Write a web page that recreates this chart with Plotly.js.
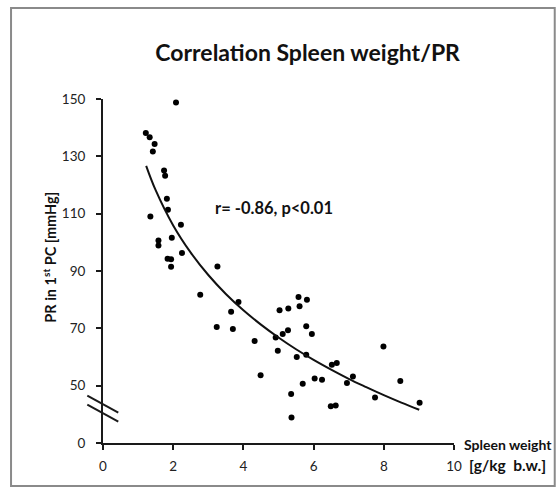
<!DOCTYPE html>
<html>
<head>
<meta charset="utf-8">
<script src="https://cdn.plot.ly/plotly-3.0.1.min.js"></script>
<style>html,body{margin:0;padding:0;background:#fff;}#chart{width:556px;height:489px;}</style>
</head>
<body>
<div id="chart"></div>
<script>
// Scatter data: spleen weight [g/kg b.w.] vs PR in 1st PC [mmHg]
const spleenWeight = [2.08,1.22,1.33,1.47,1.42,1.74,1.77,1.82,1.85,1.35,2.22,1.96,1.58,1.58,2.25,1.84,1.94,1.94,3.26,2.77,
  3.86,3.65,3.70,3.24,4.32,5.03,5.28,5.57,5.81,5.60,4.92,5.12,5.27,5.79,5.95,4.98,5.52,5.79,4.49,6.03,
  6.24,5.69,5.36,5.37,6.52,6.66,6.95,7.12,6.49,6.63,7.75,7.99,8.47,9.02];
const pressure = [148.8,138.1,136.7,134.3,131.7,125.1,123.2,115.2,111.4,109.0,106.1,101.6,100.6,98.9,96.3,94.3,94.1,91.5,91.6,81.7,
  79.2,75.8,69.8,70.5,65.6,76.3,76.9,80.9,80.0,77.7,66.8,68.0,69.3,70.7,68.0,62.2,60.0,60.8,53.6,52.5,
  52.1,50.7,47.1,38.9,57.3,57.9,50.9,53.2,42.8,43.1,45.9,63.7,51.6,44.0];
// Fitted trend curve
const trendX = [1.23,1.5,2,2.5,3,3.5,4,4.5,5,5.5,6,6.5,7,7.5,8,8.5,9.01];
const trendY = [126.7,118.2,105.9,96.4,88.6,82.0,76.3,71.3,66.8,62.7,59.0,55.6,52.4,49.5,46.7,44.1,41.6];
// Axis ticks (broken y axis: "0" sits one step below 50)
const xTickVals = [0,2,4,6,8,10];
const yTickVals = [30,50,70,90,110,130,150];
const yTickText = ["0","50","70","90","110","130","150"];

const font = "Lato, 'Open Sans', sans-serif";
const axisColor = "#1a1a1a";

const traces = [
  {x: spleenWeight, y: pressure, type: "scatter", mode: "markers",
   marker: {color: "#000", size: 6}, cliponaxis: false, hoverinfo: "x+y"},
  {x: trendX, y: trendY, type: "scatter", mode: "lines",
   line: {color: "#111", width: 2, shape: "spline"}, hoverinfo: "skip"}
];

const layout = {
  width: 556, height: 489,
  margin: {l: 102.7, r: 102, t: 99.3, b: 45.7},
  paper_bgcolor: "#fff", plot_bgcolor: "#fff",
  showlegend: false,
  font: {family: font, color: "#222", size: 13},
  title: {text: "<b>Correlation Spleen weight/PR</b>", font: {family: font, size: 23, color: "#111"},
          xref: "paper", x: 0.583, xanchor: "center", yref: "container", y: 0.892, yanchor: "middle"},
  xaxis: {range: [0, 10], tickvals: xTickVals, showgrid: false, zeroline: false,
          showline: true, linecolor: axisColor, linewidth: 2,
          ticks: "outside", ticklen: 5, tickwidth: 2, tickcolor: axisColor,
          ticklabelstandoff: 5, tickfont: {family: font, size: 13.5, color: "#222"}},
  yaxis: {range: [30, 150], tickvals: yTickVals, ticktext: yTickText, showgrid: false, zeroline: false,
          showline: true, linecolor: axisColor, linewidth: 2,
          ticks: "outside", ticklen: 5, tickwidth: 2, tickcolor: axisColor,
          ticklabelstandoff: 8, tickfont: {family: font, size: 13.5, color: "#222"}},
  annotations: [
    {text: "<b>PR in 1<sup>st</sup> PC [mmHg]</b>", xref: "paper", yref: "paper", x: -0.151, y: 0.5416,
     textangle: -90, showarrow: false, font: {family: font, size: 14.5, color: "#111"}, xanchor: "center", yanchor: "middle"},
    {text: "<b>r= -0.86, p<0.01</b>", xref: "paper", yref: "paper", x: 0.313, y: 0.683,
     showarrow: false, xanchor: "left", yanchor: "middle", font: {family: font, size: 16.5, color: "#111"}},
    {text: "<b>Spleen weight</b>", xref: "paper", yref: "paper", x: 1.023, y: -0.005,
     showarrow: false, xanchor: "left", yanchor: "middle", font: {family: font, size: 14, color: "#111"}},
    {text: "<b>[g/kg  b.w.]</b>", xref: "paper", yref: "paper", x: 1.037, y: -0.063,
     showarrow: false, xanchor: "left", yanchor: "middle", font: {family: font, size: 15.5, color: "#111"}}
  ],
  shapes: [
    {type: "line", xref: "paper", yref: "paper", x0: -0.0447, y0: 0.1375, x1: 0.0436, y1: 0.0881,
     line: {color: axisColor, width: 2}},
    {type: "line", xref: "paper", yref: "paper", x0: -0.0447, y0: 0.1113, x1: 0.0436, y1: 0.0619,
     line: {color: axisColor, width: 2}},
    {type: "rect", xref: "paper", yref: "paper", x0: -0.262, y0: -0.125, x1: 1.287, y1: 1.2645,
     line: {color: "#8a8a8a", width: 2}, fillcolor: "rgba(0,0,0,0)"}
  ]
};

Plotly.newPlot("chart", traces, layout, {displayModeBar: false, staticPlot: true});
</script>
</body>
</html>
